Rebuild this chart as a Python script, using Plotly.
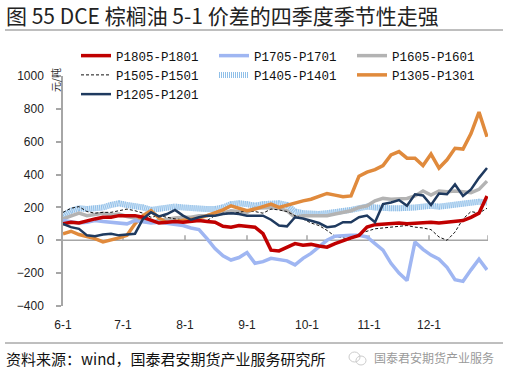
import plotly.graph_objects as go

W, H = 509, 376
L, R, T, B = 63, 21, 76, 70

def px(x):
    return (x - L) / (W - L - R)

def py(y):
    return (H - B - y) / (H - T - B)

# day index from 6-1, every 4 days
days = list(range(0, 213, 4))

tick_days = [0, 30, 61, 92, 122, 153, 183]
tick_text = ["6-1", "7-1", "8-1", "9-1", "10-1", "11-1", "12-1"]

p1805 = [100, 110, 105, 120, 130, 140, 140, 150, 152, 150, 140, 120, 105, 110, 115, 110, 115, 120,
         115, 110, 85, 80, 90, 85, 80, 40, -60, -65, -40, -20, -30, -25, -35, -42, -20, 0, 15, 30,
         80, 95, 100, 100, 105, 100, 105, 105, 110, 105, 110, 115, 120, 140, 165, 270]
p1705 = [120, 115, 105, 110, 120, 115, 110, 105, 100, 120, 110, 105, 110, 105, 100, 90, 75, 65,
         10, -50, -95, -120, -105, -75, -140, -130, -110, -115, -125, -150, -110, -80, -40, 0, 25,
         30, 30, 30, 20, -20, -60, -140, -200, -245, -10, -55, -90, -115, -165, -240, -250, -180,
         -115, -180]
p1605 = [130, 150, 165, 150, 160, 165, 155, 160, 145, 135, 115, 110, 120, 130, 135, 140, 140, 150,
         150, 160, 165, 180, 175, 170, 195, 200, 200, 195, 180, 140, 150, 150, 148, 150, 160, 170,
         180, 200, 210, 240, 255, 250, 255, 255, 270, 300, 275, 300, 295, 300, 295, 290, 310, 360]
p1505 = [170, 195, 205, 175, 165, 170, 170, 180, 190, 180, 165, 140, 150, 140, 130, 125, 120, 125,
         120, 150, 165, 165, 170, 180, 175, 165, 190, 185, 175, 150, 130, 105, 90, 60, 25, 15, 5,
         40, 55, 70, 75, 80, 85, 90, 80, 75, 65, 20, 0, 50, 130, 175, 165, 195]
p1405 = [150, 180, 195, 190, 195, 200, 215, 225, 215, 210, 200, 185, 190, 200, 205, 200, 195, 190,
         190, 190, 200, 220, 225, 220, 210, 220, 225, 225, 215, 175, 165, 160, 160, 165, 170, 175,
         185, 195, 205, 200, 195, 195, 195, 195, 200, 205, 210, 205, 210, 215, 220, 230, 235, 230]
p1305 = [40, 55, 35, 25, 10, -10, 0, 15, 30, 100, 150, 180, 135, 105, 115, 120, 125, 135, 150, 165,
         185, 210, 195, 180, 190, 205, 220, 200, 215, 225, 240, 250, 270, 285, 275, 265, 270, 390,
         415, 430, 455, 520, 540, 500, 500, 455, 525, 440, 490, 560, 555, 650, 780, 630]
p1205 = [100, 80, 70, 30, 25, 35, 40, 30, 35, 40, 130, 170, 145, 160, 185, 150, 125, 140, 150, 150,
         160, 165, 160, 150, 150, 150, 125, 90, 85, 140, 133, 120, 105, 80, 85, 110, 110, 140, 150,
         110, 220, 230, 245, 210, 280, 273, 215, 285, 280, 340, 270, 310, 380, 440]

fig = go.Figure()

def add(name, y, color, width, dash="solid", rank=1, show=True):
    fig.add_trace(go.Scatter(x=days, y=y, mode="lines", name=name,
                             line=dict(color=color, width=width, dash=dash),
                             legendrank=rank, showlegend=show, hoverinfo="skip"))

# hatched band (base + stripes)
add("P1405-P1401", p1405, "#d6e7f7", 6, rank=5, show=False)
add("P1405-P1401", p1405, "#8fbfe8", 6, dash="1px,1px", rank=5)
add("P1605-P1601", p1605, "#b3b3b3", 3.5, rank=3)
add("P1505-P1501", p1505, "#111111", 1, dash="3px,2px", rank=4)
add("P1305-P1301", p1305, "#e08a3c", 3.5, rank=6)
add("P1705-P1701", p1705, "#9fb6f2", 3.5, rank=2)
add("P1805-P1801", p1805, "#c00000", 3.5, rank=1)
add("P1205-P1201", p1205, "#1f3a5f", 2.5, rank=7)

shapes = []
# zero line with upward tick marks
shapes.append(dict(type="line", xref="x", yref="y", x0=0, x1=212.5, y0=0, y1=0,
                   line=dict(color="#a6a6a6", width=1.5), layer="below"))
for d in tick_days[1:] + [212.5]:
    shapes.append(dict(type="line", xref="x", yref="y", x0=d, x1=d, y0=0, y1=30,
                       line=dict(color="#a6a6a6", width=1.5), layer="below"))
# title rule and footer rule
shapes.append(dict(type="line", xref="paper", yref="paper", x0=px(5), x1=px(503),
                   y0=py(30), y1=py(30), line=dict(color="#7f7f7f", width=1)))
shapes.append(dict(type="line", xref="paper", yref="paper", x0=px(5), x1=px(503),
                   y0=py(343), y1=py(343), line=dict(color="#7f7f7f", width=1)))
# watermark icon
shapes.append(dict(type="circle", xref="paper", yref="paper", x0=px(349), x1=px(360),
                   y0=py(362), y1=py(352), line=dict(color="#cccccc", width=1)))
shapes.append(dict(type="circle", xref="paper", yref="paper", x0=px(356), x1=px(366),
                   y0=py(365), y1=py(356), line=dict(color="#cccccc", width=1)))

cjk = "Noto Sans CJK SC, sans-serif"
annotations = [
    dict(text="图 55 DCE 棕榈油 5-1 价差的四季度季节性走强", xref="paper", yref="paper",
         x=px(4), y=py(15), xanchor="left", yanchor="middle", showarrow=False,
         font=dict(family=cjk, size=21, color="#222222")),
    dict(text="资料来源：wind，国泰君安期货产业服务研究所", xref="paper", yref="paper",
         x=px(4), y=py(358), xanchor="left", yanchor="middle", showarrow=False,
         font=dict(family=cjk, size=15, color="#111111")),
    dict(text="国泰君安期货产业服务", xref="paper", yref="paper",
         x=px(372), y=py(357), xanchor="left", yanchor="middle", showarrow=False,
         font=dict(family=cjk, size=12, color="#9a9a9a")),
    dict(text="元/吨", xref="paper", yref="paper", textangle=-90,
         x=px(55), y=py(80), xanchor="center", yanchor="middle", showarrow=False,
         font=dict(family=cjk, size=10, color="#333333")),
]

fig.update_layout(
    width=W, height=H, margin=dict(l=L, r=R, t=T, b=B),
    paper_bgcolor="white", plot_bgcolor="white",
    showlegend=True,
    legend=dict(orientation="h", x=px(76), y=py(41), xanchor="left", yanchor="top",
                entrywidth=93, entrywidthmode="pixels", bgcolor="rgba(0,0,0,0)",
                font=dict(family="Liberation Mono, monospace", size=12.5, color="#111111"),
                tracegroupgap=0, itemwidth=30),
    shapes=shapes, annotations=annotations,
    xaxis=dict(range=[0, 212.5], tickvals=tick_days, ticktext=tick_text, showgrid=False,
               zeroline=False, showline=False, ticks="", ticklabelstandoff=10,
               tickfont=dict(family="Liberation Sans, Arial", size=12, color="#222222")),
    yaxis=dict(range=[-400, 1000], tickvals=list(range(-400, 1001, 200)), showgrid=False,
               zeroline=False, showline=True, linecolor="#a6a6a6", linewidth=1.5,
               ticks="outside", ticklen=5, tickcolor="#a6a6a6", tickwidth=1.5,
               ticklabelstandoff=10,
               tickfont=dict(family="Liberation Sans, Arial", size=12, color="#222222")),
)

fig.write_html("out.html", config={"displayModeBar": False},
               post_script="document.body.style.margin='0';document.body.style.padding='0';")
